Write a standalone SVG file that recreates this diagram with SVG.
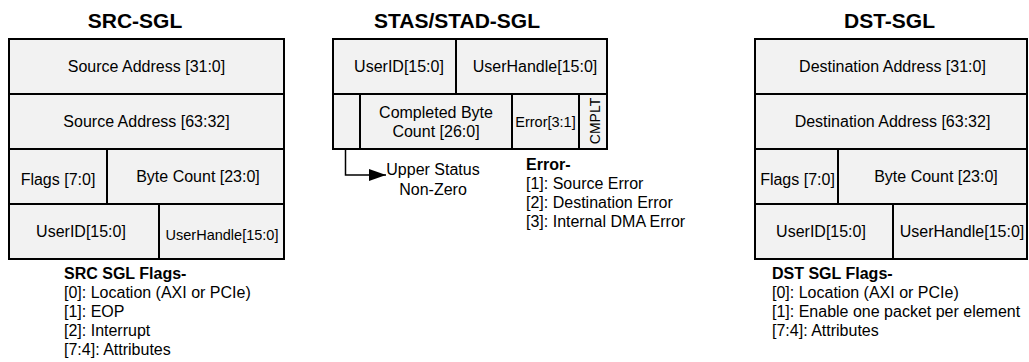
<svg xmlns="http://www.w3.org/2000/svg" width="1029" height="362" viewBox="0 0 1029 362">
  <style>
    text { font-family: "Liberation Sans", Arial, sans-serif; fill: #000; }
    .title { font-size: 21px; font-weight: bold; text-anchor: middle; }
    .cell { fill: #f2f2f2; stroke: #000; stroke-width: 2; }
    .lbl { font-size: 16px; text-anchor: middle; }
    .sm { font-size: 14.5px; text-anchor: middle; }
    .note { font-size: 16px; }
    .noteh { font-size: 16px; font-weight: bold; }
    .conn { fill: none; stroke: #000; stroke-width: 1.5; }
  </style>
  <defs>
    <marker id="arrow" markerUnits="userSpaceOnUse" markerWidth="18" markerHeight="12" refX="17" refY="6" orient="auto">
      <path d="M0,0 L17,6 L0,12 Z" fill="#000"/>
    </marker>
  </defs>

  <g id="src-sgl">
    <text class="title" x="135" y="28">SRC-SGL</text>
    <rect class="cell" x="9" y="39" width="275" height="55"/>
    <rect class="cell" x="9" y="94" width="275" height="55"/>
    <rect class="cell" x="9" y="149" width="98" height="55"/>
    <rect class="cell" x="107" y="149" width="177" height="55"/>
    <rect class="cell" x="9" y="204" width="150" height="55"/>
    <rect class="cell" x="159" y="204" width="125" height="55"/>
    <text class="lbl" x="146.5" y="72">Source Address [31:0]</text>
    <text class="lbl" x="146.5" y="127">Source Address [63:32]</text>
    <text class="lbl" x="58" y="185">Flags [7:0]</text>
    <text class="lbl" x="198" y="181.5">Byte Count [23:0]</text>
    <text class="lbl" x="81" y="237">UserID[15:0]</text>
    <text class="sm" x="222" y="239.5">UserHandle[15:0]</text>
    <text class="noteh" x="64" y="278.5">SRC SGL Flags-</text>
    <text class="note" x="64" y="297.5">[0]: Location (AXI or PCIe)</text>
    <text class="note" x="64" y="316.5">[1]: EOP</text>
    <text class="note" x="64" y="335.5">[2]: Interrupt</text>
    <text class="note" x="64" y="354.5">[7:4]: Attributes</text>
  </g>

  <g id="stas-sgl">
    <text class="title" x="457" y="28">STAS/STAD-SGL</text>
    <rect class="cell" x="333" y="39" width="123" height="55"/>
    <rect class="cell" x="456" y="39" width="151" height="55"/>
    <rect class="cell" x="333" y="94" width="27" height="55"/>
    <rect class="cell" x="360" y="94" width="152" height="55"/>
    <rect class="cell" x="512" y="94" width="67" height="55"/>
    <rect class="cell" x="579" y="94" width="28" height="55"/>
    <text class="lbl" x="399" y="72">UserID[15:0]</text>
    <text class="lbl" x="535" y="72">UserHandle[15:0]</text>
    <text class="lbl" x="436" y="118">Completed Byte</text>
    <text class="lbl" x="436" y="136.5">Count [26:0]</text>
    <text class="sm" x="545.5" y="127">Error[3:1]</text>
    <text class="sm" transform="translate(599.5,121) rotate(-90)" x="0" y="0" style="font-size:14px">CMPLT</text>
  </g>

  <g id="upper-status">
    <text class="lbl" x="433" y="175">Upper Status</text>
    <text class="lbl" x="433" y="194.5">Non-Zero</text>
  </g>

  <g id="error-legend">
    <text class="noteh" x="526" y="170">Error-</text>
    <text class="note" x="526" y="189">[1]: Source Error</text>
    <text class="note" x="526" y="208">[2]: Destination Error</text>
    <text class="note" x="526" y="227">[3]: Internal DMA Error</text>
  </g>

  <g id="dst-sgl">
    <text class="title" x="889.5" y="28">DST-SGL</text>
    <rect class="cell" x="755" y="39" width="272" height="55"/>
    <rect class="cell" x="755" y="94" width="272" height="55"/>
    <rect class="cell" x="755" y="149" width="83" height="55"/>
    <rect class="cell" x="838" y="149" width="189" height="55"/>
    <rect class="cell" x="755" y="204" width="138" height="55"/>
    <rect class="cell" x="893" y="204" width="134" height="55"/>
    <text class="lbl" x="892.5" y="72">Destination Address [31:0]</text>
    <text class="lbl" x="892.5" y="127">Destination Address [63:32]</text>
    <text class="lbl" x="797.5" y="185">Flags [7:0]</text>
    <text class="lbl" x="936" y="181.5">Byte Count [23:0]</text>
    <text class="lbl" x="821" y="237">UserID[15:0]</text>
    <text class="lbl" x="962" y="237">UserHandle[15:0]</text>
    <text class="noteh" x="772" y="278.5">DST SGL Flags-</text>
    <text class="note" x="772" y="297.5">[0]: Location (AXI or PCIe)</text>
    <text class="note" x="772" y="316.5">[1]: Enable one packet per element</text>
    <text class="note" x="772" y="335.5">[7:4]: Attributes</text>
  </g>

  <g id="connectors">
    <path class="conn" d="M345.5,149 V175 H386" marker-end="url(#arrow)"/>
  </g>
</svg>
